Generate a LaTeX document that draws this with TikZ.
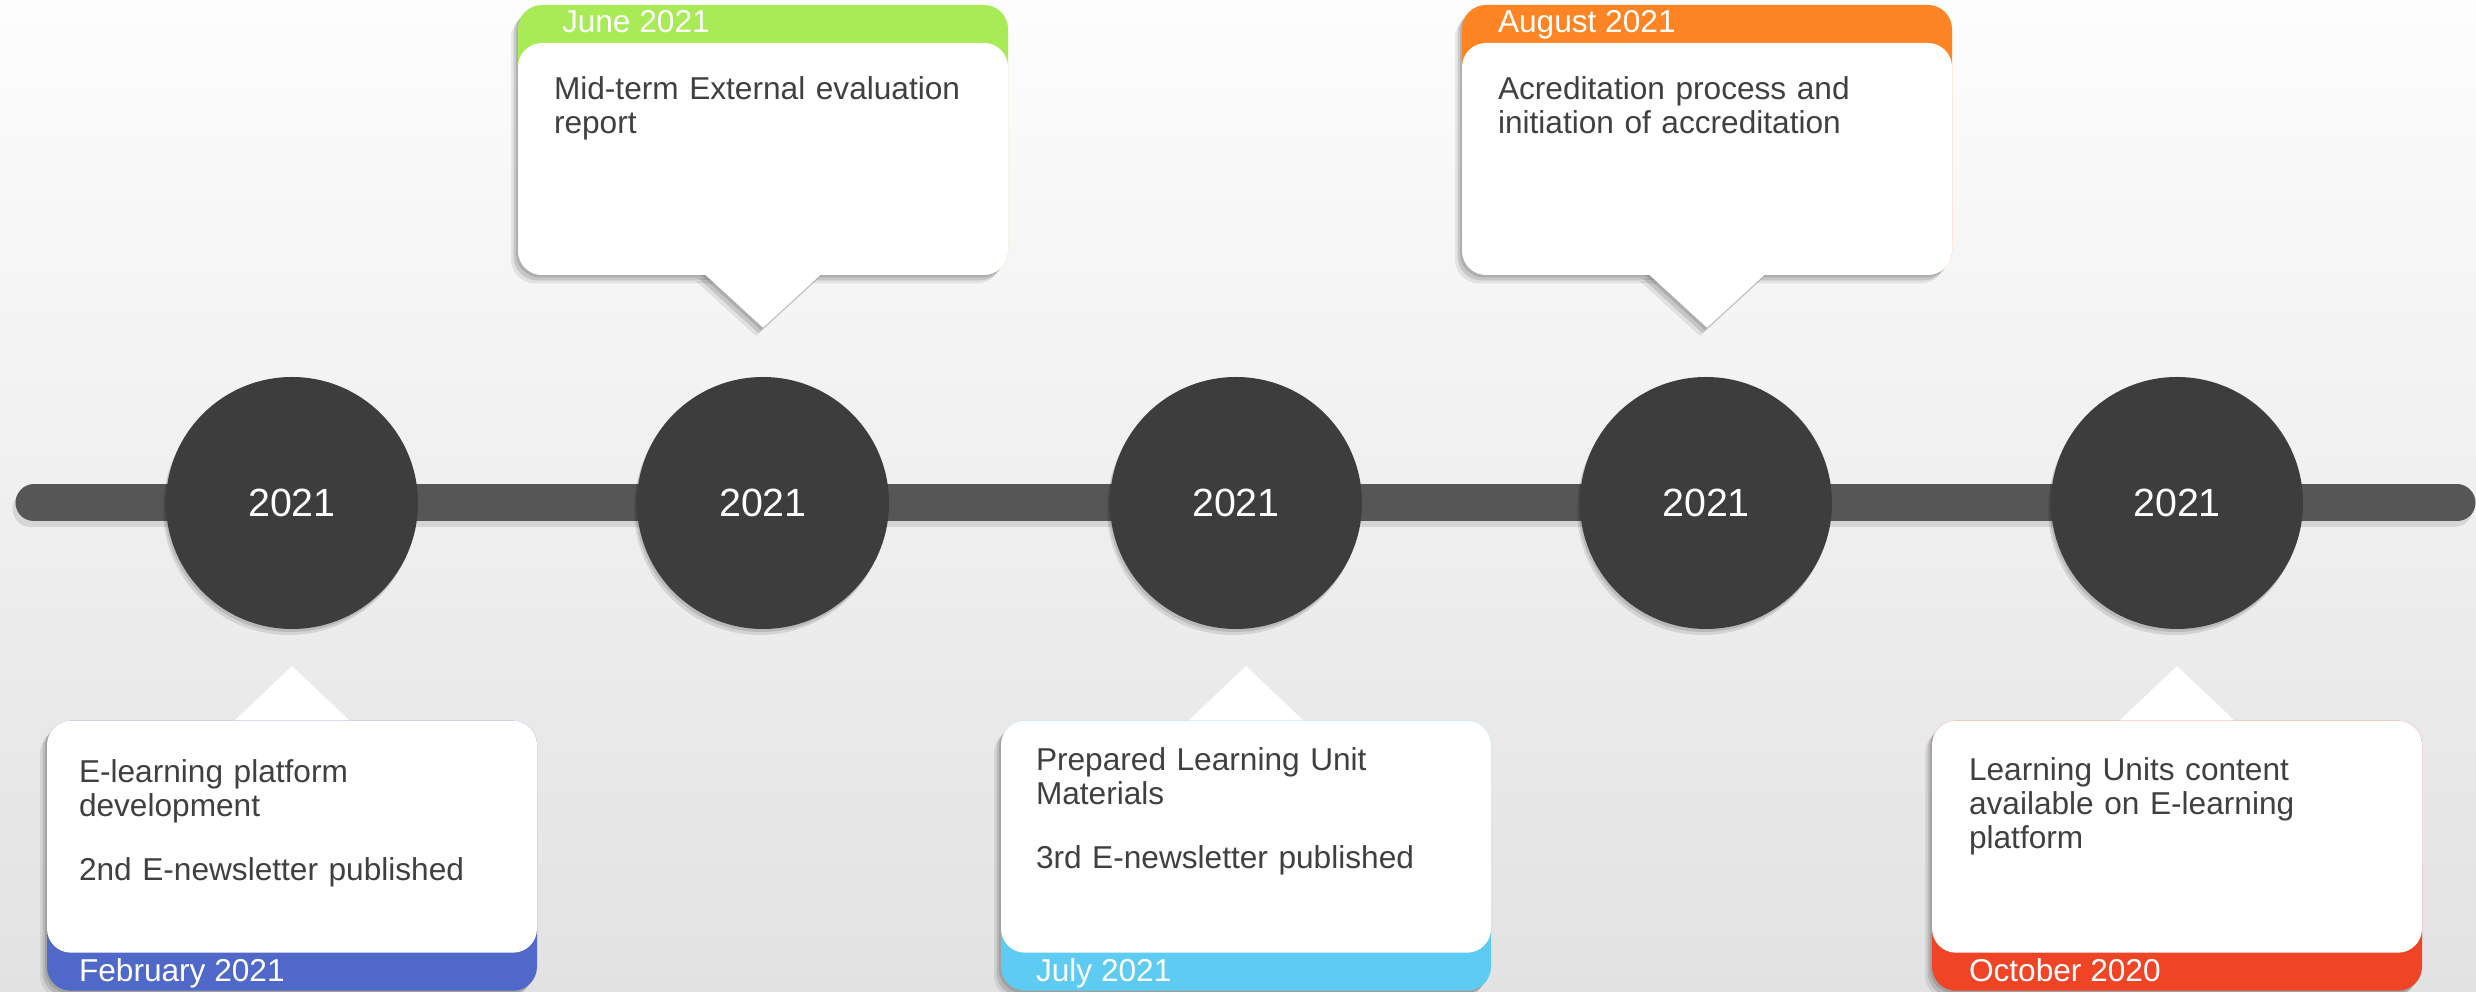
\documentclass[tikz,border=0pt]{standalone}
\usepackage{fontspec}
\setmainfont{Liberation Sans}
\usetikzlibrary{positioning,calc,shadows}

\definecolor{bardark}{HTML}{565656}
\definecolor{yeardark}{HTML}{3D3D3D}
\definecolor{inkgray}{HTML}{404040}
\definecolor{junegreen}{HTML}{A8EB57}
\definecolor{augorange}{HTML}{FF8424}
\definecolor{febblue}{HTML}{5068C8}
\definecolor{julyblue}{HTML}{5DCBF2}
\definecolor{octred}{HTML}{F04426}
\definecolor{bgtop}{HTML}{FDFDFD}
\definecolor{bgbottom}{HTML}{E2E2E2}

\tikzset{
  softshadow/.style={
    drop shadow={shadow xshift=-0.2mm, shadow yshift=-0.25mm, opacity=0.12, fill=black},
    drop shadow={shadow xshift=-0.45mm, shadow yshift=-0.55mm, opacity=0.12, fill=black},
    drop shadow={shadow xshift=-0.7mm, shadow yshift=-0.85mm, opacity=0.08, fill=black}},
  timebar/.style={line width=3.7mm, line cap=round, draw=bardark},
  barshadow/.style={line width=3.7mm, line cap=round, draw=black, opacity=0.1},
  yearnode/.style={circle, fill=yeardark, minimum size=25.2mm, inner sep=0pt, text=white,
    font=\fontsize{11.2}{13}\selectfont,
    drop shadow={shadow xshift=-0.15mm, shadow yshift=-0.3mm, opacity=0.12, fill=black},
    drop shadow={shadow xshift=-0.3mm, shadow yshift=-0.6mm, opacity=0.1, fill=black}},
  cardframe/.style={rectangle, rounded corners=2.4mm, minimum width=49mm, minimum height=27mm, inner sep=0pt, softshadow},
  cardbody/.style={rectangle, rounded corners=2.4mm, fill=white, minimum width=49mm, minimum height=23.2mm, inner sep=0pt},
  pointer/.style={fill=white, softshadow},
  cardtext/.style={anchor=base west, inner sep=0pt, text width=45mm, align=left, text=inkgray,
    font=\fontsize{9}{9.6}\selectfont},
  datetext/.style={anchor=base west, inner sep=0pt, text=white, font=\fontsize{9}{9.6}\selectfont}
}

\begin{document}
\begin{tikzpicture}[x=0.1mm, y=0.1mm, line cap=round]
  % Parameters
  \pgfmathsetmacro{\barY}{489}
  \useasboundingbox (0,0) rectangle (2476,992);

  % Background
  \shade[top color=bgtop, bottom color=bgbottom] (0,0) rectangle (2476,992);

  % Timeline bar
  \coordinate (barL) at (34,\barY);
  \coordinate (barR) at (2457,\barY);
  \draw[barshadow] ($(barL)+(-3,-6)$) -- ($(barR)+(-3,-6)$);
  \draw[timebar] (barL) -- (barR);

  % Year discs
  \node[yearnode] (yr1) at (292,\barY)  {2021};
  \node[yearnode] (yr2) at (763,\barY)  {2021};
  \node[yearnode] (yr3) at (1236,\barY) {2021};
  \node[yearnode] (yr4) at (1706,\barY) {2021};
  \node[yearnode] (yr5) at (2177,\barY) {2021};

  % Card above: June
  \node[cardframe, fill=junegreen] (juneframe) at (763,852) {};
  \node[cardbody, anchor=south] (junebody) at (juneframe.south) {};
  \fill[pointer] ($(junebody.south)+(-60,3)$) -- ($(junebody.south)+(0,-52)$) -- ($(junebody.south)+(60,3)$) -- cycle;
  \node[datetext] (junedate) at ($(juneframe.north west)+(44,-28)$) {June 2021};
  \node[cardtext] (junetext) at ($(juneframe.north west)+(36,-95)$) {Mid-term External evaluation\\report};

  % Card above: August
  \node[cardframe, fill=augorange] (augframe) at (1707,852) {};
  \node[cardbody, anchor=south] (augbody) at (augframe.south) {};
  \fill[pointer] ($(augbody.south)+(-60,3)$) -- ($(augbody.south)+(0,-52)$) -- ($(augbody.south)+(60,3)$) -- cycle;
  \node[datetext] (augdate) at ($(augframe.north west)+(36,-28)$) {August 2021};
  \node[cardtext] (augtext) at ($(augframe.north west)+(36,-95)$) {Acreditation process and\\initiation of accreditation};

  % Card below: February
  \coordinate (febtip) at (292,326);
  \fill[pointer] ($(febtip)+(-60,-57)$) -- (febtip) -- ($(febtip)+(60,-57)$) -- cycle;
  \node[cardframe, fill=febblue, anchor=north] (febframe) at ($(febtip)+(0,-54)$) {};
  \node[cardbody, anchor=north] (febbody) at (febframe.north) {};
  \node[datetext] (febdate) at ($(febframe.south west)+(32,10)$) {February 2021};
  \node[cardtext] (febtext) at ($(febframe.north west)+(32,-63)$) {E-learning platform\\development\\[3mm]2nd E-newsletter published};

  % Card below: July
  \coordinate (julytip) at (1246,326);
  \fill[pointer] ($(julytip)+(-60,-57)$) -- (julytip) -- ($(julytip)+(60,-57)$) -- cycle;
  \node[cardframe, fill=julyblue, anchor=north] (julyframe) at ($(julytip)+(0,-54)$) {};
  \node[cardbody, anchor=north] (julybody) at (julyframe.north) {};
  \node[datetext] (julydate) at ($(julyframe.south west)+(35,10)$) {July 2021};
  \node[cardtext] (julytext) at ($(julyframe.north west)+(35,-51)$) {Prepared Learning Unit\\Materials\\[3mm]3rd E-newsletter published};

  % Card below: October
  \coordinate (octtip) at (2177,326);
  \fill[pointer] ($(octtip)+(-60,-57)$) -- (octtip) -- ($(octtip)+(60,-57)$) -- cycle;
  \node[cardframe, fill=octred, anchor=north] (octframe) at ($(octtip)+(0,-54)$) {};
  \node[cardbody, anchor=north] (octbody) at (octframe.north) {};
  \node[datetext] (octdate) at ($(octframe.south west)+(37,10)$) {October 2020};
  \node[cardtext] (octtext) at ($(octframe.north west)+(37,-61)$) {Learning Units content\\available on E-learning\\platform};
\end{tikzpicture}
\end{document}
